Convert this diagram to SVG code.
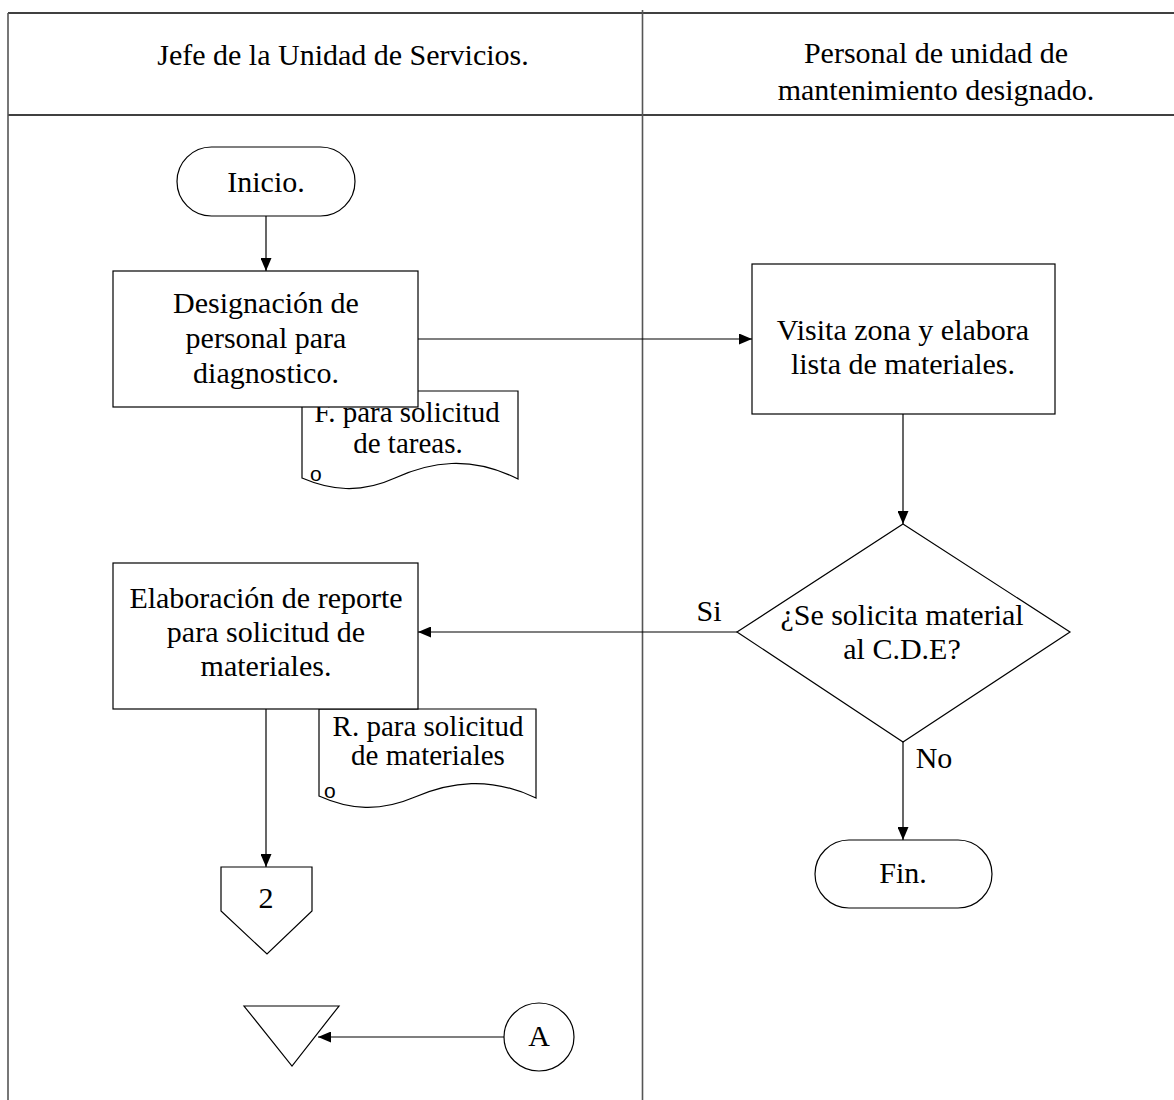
<svg xmlns="http://www.w3.org/2000/svg" width="1174" height="1100" viewBox="0 0 1174 1100">
  <style>
    .t { font-family: 'Liberation Serif', 'Times New Roman', Times, serif; font-size: 30px; fill: #000; text-anchor: middle; }
    .d { font-size: 29px; }
    .shape { fill: #fff; stroke: #000; stroke-width: 1.2; }
    .lane { stroke: #555; stroke-width: 1.6; fill: none; }
    .rule { stroke: #000; stroke-width: 1.6; fill: none; }
    .conn { stroke: #000; stroke-width: 1.2; fill: none; }
    .mark { font-family: 'Liberation Sans', Arial, sans-serif; font-size: 21px; fill: #000; }
  </style>
  <defs>
    <marker id="arrow" viewBox="0 0 13 11" refX="13" refY="5.5" markerWidth="13" markerHeight="11" markerUnits="userSpaceOnUse" orient="auto">
      <path d="M0,0 L13,5.5 L0,11 Z" fill="#000"/>
    </marker>
  </defs>

  <rect width="1174" height="1100" fill="#fff"/>

  <!-- swimlane frame -->
  <g id="lanes">
    <line class="rule" x1="8" y1="13" x2="1174" y2="13"/>
    <line class="rule" x1="8" y1="115" x2="1174" y2="115"/>
    <line class="lane" x1="8" y1="13" x2="8" y2="1100"/>
    <line class="lane" x1="642.5" y1="10" x2="642.5" y2="1100"/>
    <text class="t" x="343" y="65">Jefe de la Unidad de Servicios.</text>
    <text class="t" x="936" y="63">Personal de unidad de</text>
    <text class="t" x="936" y="100">mantenimiento designado.</text>
  </g>

  <!-- connectors -->
  <g id="connectors">
    <line class="conn" x1="266" y1="216" x2="266" y2="271" marker-end="url(#arrow)"/>
    <line class="conn" x1="418" y1="339" x2="752" y2="339" marker-end="url(#arrow)"/>
    <line class="conn" x1="903" y1="414" x2="903" y2="524" marker-end="url(#arrow)"/>
    <line class="conn" x1="737" y1="632" x2="418" y2="632" marker-end="url(#arrow)"/>
    <line class="conn" x1="903" y1="742" x2="903" y2="840" marker-end="url(#arrow)"/>
    <line class="conn" x1="266" y1="709" x2="266" y2="867" marker-end="url(#arrow)"/>
    <line class="conn" x1="504" y1="1037" x2="318" y2="1037" marker-end="url(#arrow)"/>
    <text class="t" x="709" y="621">Si</text>
    <text class="t" x="934" y="768">No</text>
  </g>

  <g id="inicio">
    <rect class="shape" x="177" y="147" width="178" height="69" rx="34.5" ry="34.5"/>
    <text class="t" x="266" y="192">Inicio.</text>
  </g>

  <g id="doc-tareas">
    <path class="shape" d="M302,391 L518,391 L518,479 C470,455 430,462 395,478 C360,494 330,490 302,478 Z"/>
    <text class="t d" x="407" y="422">F. para solicitud</text>
    <text class="t d" x="408" y="453">de tareas.</text>
    <text class="mark" x="310" y="481">o</text>
  </g>

  <g id="designacion">
    <rect class="shape" x="113" y="271" width="305" height="136"/>
    <text class="t" x="266" y="313">Designación de</text>
    <text class="t" x="266" y="348">personal para</text>
    <text class="t" x="266" y="383">diagnostico.</text>
  </g>

  <g id="visita">
    <rect class="shape" x="752" y="264" width="303" height="150"/>
    <text class="t" x="903" y="340">Visita zona y elabora</text>
    <text class="t" x="903" y="374">lista de materiales.</text>
  </g>

  <g id="decision">
    <path class="shape" d="M903,524 L1070,632 L903,742 L737,632 Z"/>
    <text class="t" x="902" y="625">¿Se solicita material</text>
    <text class="t" x="902" y="659">al C.D.E?</text>
  </g>

  <g id="fin">
    <rect class="shape" x="815" y="840" width="177" height="68" rx="34" ry="34"/>
    <text class="t" x="903" y="883">Fin.</text>
  </g>

  <g id="doc-materiales">
    <path class="shape" d="M319,709 L536,709 L536,798 C490,776 450,782 415,797 C380,812 350,810 319,796 Z"/>
    <text class="t d" x="428" y="736">R. para solicitud</text>
    <text class="t d" x="428" y="765">de materiales</text>
    <text class="mark" x="324" y="798">o</text>
  </g>

  <g id="elaboracion">
    <rect class="shape" x="113" y="563" width="305" height="146"/>
    <text class="t" x="266" y="608">Elaboración de reporte</text>
    <text class="t" x="266" y="642">para solicitud de</text>
    <text class="t" x="266" y="676">materiales.</text>
  </g>

  <g id="conector-2">
    <path class="shape" d="M221,867 L312,867 L312,911 L267,954 L221,911 Z"/>
    <text class="t" x="266" y="908">2</text>
  </g>

  <g id="archivo">
    <path class="shape" d="M244,1006 L339,1006 L292,1066 Z" stroke="#666"/>
  </g>

  <g id="conector-a">
    <ellipse class="shape" cx="539" cy="1037" rx="35" ry="34"/>
    <text class="t" x="539" y="1046">A</text>
  </g>
</svg>
